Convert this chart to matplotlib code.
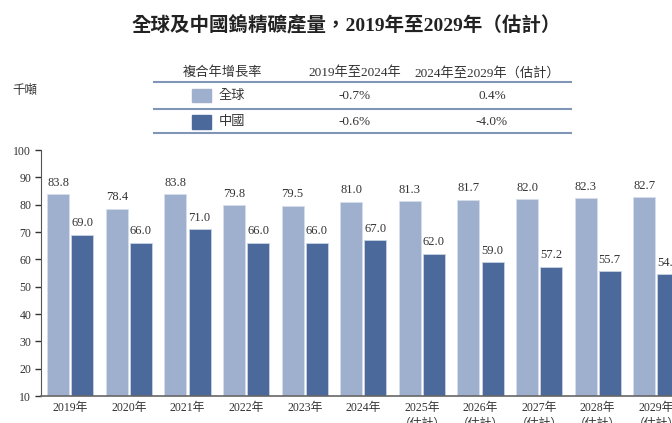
import matplotlib
matplotlib.use('Agg')
import matplotlib.pyplot as plt
import numpy as np
from matplotlib.lines import Line2D
from matplotlib.patches import Rectangle

# data
years = ['2019年', '2020年', '2021年', '2022年', '2023年', '2024年',
         '2025年\n（估計）', '2026年\n（估計）', '2027年\n（估計）',
         '2028年\n（估計）', '2029年\n（估計）']
global_vals = [83.8, 78.4, 83.8, 79.8, 79.5, 81.0, 81.3, 81.7, 82.0, 82.3, 82.7]
china_vals = [69.0, 66.0, 71.0, 66.0, 66.0, 67.0, 62.0, 59.0, 57.2, 55.7, 54.6]

cagr_title = '複合年增長率'
cagr_periods = ['2019年至2024年', '2024年至2029年（估計）']
series_names = ['全球', '中國']
cagr_global = ['-0.7%', '0.4%']
cagr_china = ['-0.6%', '-4.0%']

light = '#9eb0ce'
dark = '#4b6a9b'
txt = '#333333'
rule = '#8196b6'

fonts = ['Liberation Serif', 'Noto Sans CJK TC']
plt.rcParams['font.family'] = fonts

W, H = 672, 423
fig = plt.figure(figsize=(W / 100, H / 100), dpi=100)

def fx(px):
    return px / W

def fy(py):
    return 1 - py / H

# main axes (runs past the right edge like the source)
step = 58.6
ax = fig.add_axes([fx(41), fy(396), 11 * step / W, (396 - 150) / H])
x = np.arange(len(years))
bw = 0.375
off = 0.205
b1 = ax.bar(x - off, global_vals, bw, color=light, edgecolor='#d6deeb', linewidth=0.6)
b2 = ax.bar(x + off, china_vals, bw, color=dark, edgecolor='#c9d3e3', linewidth=0.6)

for bars, vals in [(b1, global_vals), (b2, china_vals)]:
    for b, v in zip(bars, vals):
        ax.annotate(f'{v:.1f}', (b.get_x() + b.get_width() / 2, v),
                    xytext=(0, 4), textcoords='offset points',
                    ha='center', va='bottom', fontsize=9, color=txt)

ax.set_xlim(-0.5, 10.5)
ax.set_ylim(10, 100)
ax.set_yticks(range(10, 101, 10))
ax.set_xticks(x)
ax.set_xticklabels(years, linespacing=1.45)
ax.tick_params(axis='x', length=0, pad=4, labelsize=8.5, colors=txt)
ax.tick_params(axis='y', length=4, width=1, pad=3, labelsize=8.5, colors=txt)
for s in ['top', 'right']:
    ax.spines[s].set_visible(False)
ax.spines['left'].set_color('#555555')
ax.spines['bottom'].set_color('#666666')
ax.spines['bottom'].set_linewidth(1.2)

# title and unit
fig.text(fx(346), fy(25), '全球及中國鎢精礦產量，2019年至2029年（估計）',
         ha='center', va='center', fontsize=14, fontweight='bold', color='#222222')
fig.text(fx(12), fy(91), '千噸', ha='left', va='center', fontsize=9, color=txt)

# CAGR table
for yy in [82.5, 109, 133]:
    fig.add_artist(Line2D([fx(154), fx(571)], [fy(yy), fy(yy)], color=rule, lw=1.5))

fig.text(fx(222), fy(73), cagr_title, ha='center', va='center', fontsize=9.5, color=txt)
col_x = [355, 487]
for cx, p in zip(col_x, cagr_periods):
    fig.text(fx(cx), fy(73), p, ha='center', va='center', fontsize=9.5, color=txt)

val_x = [355, 492]
for ry, name, col, vals in [(96, series_names[0], light, cagr_global),
                            (122, series_names[1], dark, cagr_china)]:
    fig.add_artist(Rectangle((fx(192), fy(ry + 6.5)), fx(19), 13 / H,
                             color=col, transform=fig.transFigure))
    fig.text(fx(219), fy(ry), name, ha='left', va='center', fontsize=9.5, color=txt)
    for cx, v in zip(val_x, vals):
        fig.text(fx(cx), fy(ry), v, ha='center', va='center', fontsize=9.5, color=txt)

fig.savefig('out.png', dpi=100)
